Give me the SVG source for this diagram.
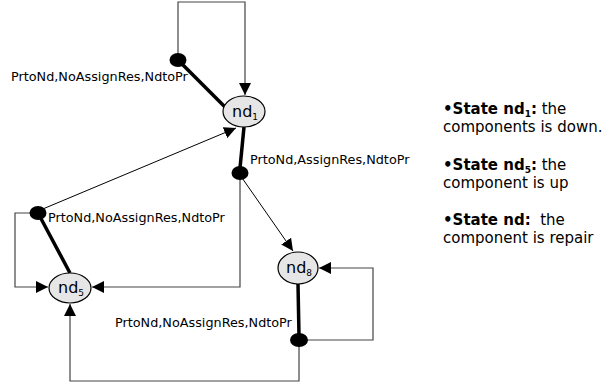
<svg xmlns="http://www.w3.org/2000/svg" width="605" height="388" viewBox="0 0 605 388">
  <style>
    .node { fill: #e6e6e6; stroke: #000; stroke-width: 1.2; }
    .dot { fill: #000; }
    .thin { fill: none; stroke: #000; stroke-width: 1; }
    .grey { fill: none; stroke: #444; stroke-width: 1.2; }
    .thick { fill: none; stroke: #000; stroke-width: 3.5; }
    .nlabel { font-family: "DejaVu Sans", sans-serif; font-size: 16px; fill: #000; }
    .sub { font-size: 9px; }
    .elabel { font-family: "DejaVu Sans", sans-serif; font-size: 12.8px; fill: #000; }
    .legend { font-family: "DejaVu Sans", sans-serif; font-size: 15px; fill: #000; }
    .b { font-weight: bold; }
  </style>
  <defs>
    <marker id="arrowL" viewBox="0 0 10 10" refX="10" refY="5" markerWidth="12" markerHeight="12" markerUnits="userSpaceOnUse" orient="auto">
      <path d="M0,0 L10,5 L0,10 Z" fill="#000"/>
    </marker>
  </defs>

  <g id="connectors">
    <!-- self loop on nd1 -->
    <polyline class="grey" points="178,54 178,2 245,2 245,95" marker-end="url(#arrowL)"/>
    <line class="thick" x1="178" y1="60" x2="225" y2="107"/>
    <!-- nd1 to transition below -->
    <line class="thick" x1="244" y1="127" x2="240" y2="168"/>
    <!-- transition to nd8 -->
    <line class="thin" x1="240" y1="175" x2="293" y2="251" marker-end="url(#arrowL)"/>
    <!-- transition to nd5 -->
    <polyline class="grey" points="240,178 240,287 92,287" marker-end="url(#arrowL)"/>
    <!-- nd5 side transition -->
    <line class="thin" x1="38" y1="211" x2="236" y2="128" marker-end="url(#arrowL)"/>
    <polyline class="grey" points="31,213 15,213 15,287 48,287" marker-end="url(#arrowL)"/>
    <line class="thick" x1="38" y1="213" x2="70" y2="273"/>
    <!-- nd8 transition -->
    <line class="thick" x1="298" y1="284" x2="299" y2="336"/>
    <polyline class="grey" points="306,340 373,340 373,268 319,268" marker-end="url(#arrowL)"/>
    <polyline class="grey" points="299,345 299,381 70,381 70,304" marker-end="url(#arrowL)"/>
  </g>

  <g id="t1">
    <ellipse class="dot" cx="178" cy="60" rx="8.5" ry="7"/>
    <text class="elabel" x="11" y="81">PrtoNd,NoAssignRes,NdtoPr</text>
  </g>
  <g id="t2">
    <ellipse class="dot" cx="240" cy="173" rx="8.5" ry="7"/>
    <text class="elabel" x="250" y="164">PrtoNd,AssignRes,NdtoPr</text>
  </g>
  <g id="t3">
    <ellipse class="dot" cx="38" cy="213" rx="8.5" ry="7"/>
    <text class="elabel" x="48" y="222">PrtoNd,NoAssignRes,NdtoPr</text>
  </g>
  <g id="t4">
    <ellipse class="dot" cx="299" cy="340" rx="9" ry="7"/>
    <text class="elabel" x="115" y="327">PrtoNd,NoAssignRes,NdtoPr</text>
  </g>

  <g id="nd1">
    <ellipse class="node" cx="244" cy="111.5" rx="21" ry="15.5"/>
    <text class="nlabel" x="232" y="117">nd<tspan class="sub" dy="3">1</tspan></text>
  </g>
  <g id="nd5">
    <ellipse class="node" cx="70" cy="288" rx="21" ry="15"/>
    <text class="nlabel" x="58" y="293">nd<tspan class="sub" dy="3">5</tspan></text>
  </g>
  <g id="nd8">
    <ellipse class="node" cx="298" cy="268" rx="20" ry="16"/>
    <text class="nlabel" x="286" y="273">nd<tspan class="sub" dy="3">8</tspan></text>
  </g>

  <g id="legend">
    <text class="legend" x="443" y="114"><tspan class="b">•State nd</tspan><tspan class="b sub" dy="3">1</tspan><tspan class="b" dy="-3">:</tspan> the</text>
    <text class="legend" x="443" y="132">components is down.</text>
    <text class="legend" x="443" y="170"><tspan class="b">•State nd</tspan><tspan class="b sub" dy="3">5</tspan><tspan class="b" dy="-3">:</tspan> the</text>
    <text class="legend" x="443" y="188">component is up</text>
    <text class="legend" x="443" y="225"><tspan class="b">•State nd:</tspan>&#160; the</text>
    <text class="legend" x="443" y="243">component is repair</text>
  </g>
</svg>
